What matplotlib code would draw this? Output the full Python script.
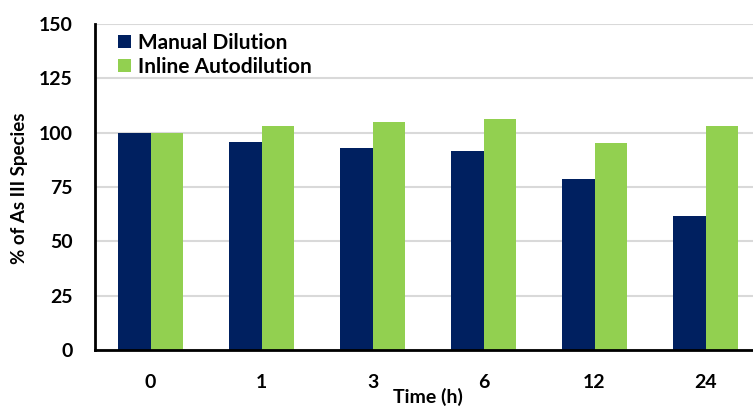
import matplotlib
matplotlib.use("Agg")
import matplotlib.pyplot as plt
import numpy as np

categories = ["0", "1", "3", "6", "12", "24"]
manual = [100, 95.7, 92.8, 91.4, 78.7, 61.7]
inline = [100, 102.9, 104.9, 106.3, 95.3, 102.9]
yticks = [0, 25, 50, 75, 100, 125, 150]

navy = "#002060"
green = "#92D050"

plt.rcParams['font.family'] = ['Lato', 'DejaVu Sans']
plt.rcParams['font.weight'] = 'bold'

fig = plt.figure(figsize=(7.53, 4.07), dpi=100)
ax = fig.add_axes([95/753, 1-350/407, 666/753, 326/407])

x = np.arange(len(categories))
w = 0.29
ax.bar(x - w/2, manual, width=w, color=navy, label="Manual Dilution", zorder=3)
ax.bar(x + w/2, inline, width=w, color=green, label="Inline Autodilution", zorder=3)

ax.set_xlim(-0.5, len(categories) - 0.5)
ax.set_ylim(0, 150)
ax.set_yticks(yticks)
ax.set_yticklabels([str(t) for t in yticks], fontsize=14, fontweight='bold')
ax.set_xticks(x)
ax.set_xticklabels(categories, fontsize=14, fontweight='bold')
ax.tick_params(axis='both', length=0)
ax.tick_params(axis='x', pad=17)
ax.tick_params(axis='y', pad=16)

ax.grid(axis='y', color='#D9D9D9', linewidth=1.5, zorder=0)
for s in ['top', 'right']:
    ax.spines[s].set_visible(False)
ax.spines['left'].set_linewidth(2)
ax.spines['bottom'].set_linewidth(2)
ax.spines['left'].set_zorder(4)
ax.spines['bottom'].set_zorder(4)

fig.text(20/753, 1-188/407, "% of As III Species", ha='center', va='center',
         rotation=90, fontsize=13.5, fontweight='bold')
fig.text(428/753, 1-397/407, "Time (h)", ha='center', va='center', fontsize=14, fontweight='bold')

leg = ax.legend(loc='upper left', bbox_to_anchor=(0.013, 1.018), frameon=False,
                prop={'size': 15, 'weight': 'bold'}, handlelength=0.6, handleheight=0.6,
                handletextpad=0.35, labelspacing=0.2, borderaxespad=0.3)

fig.savefig("out.png", dpi=100)
